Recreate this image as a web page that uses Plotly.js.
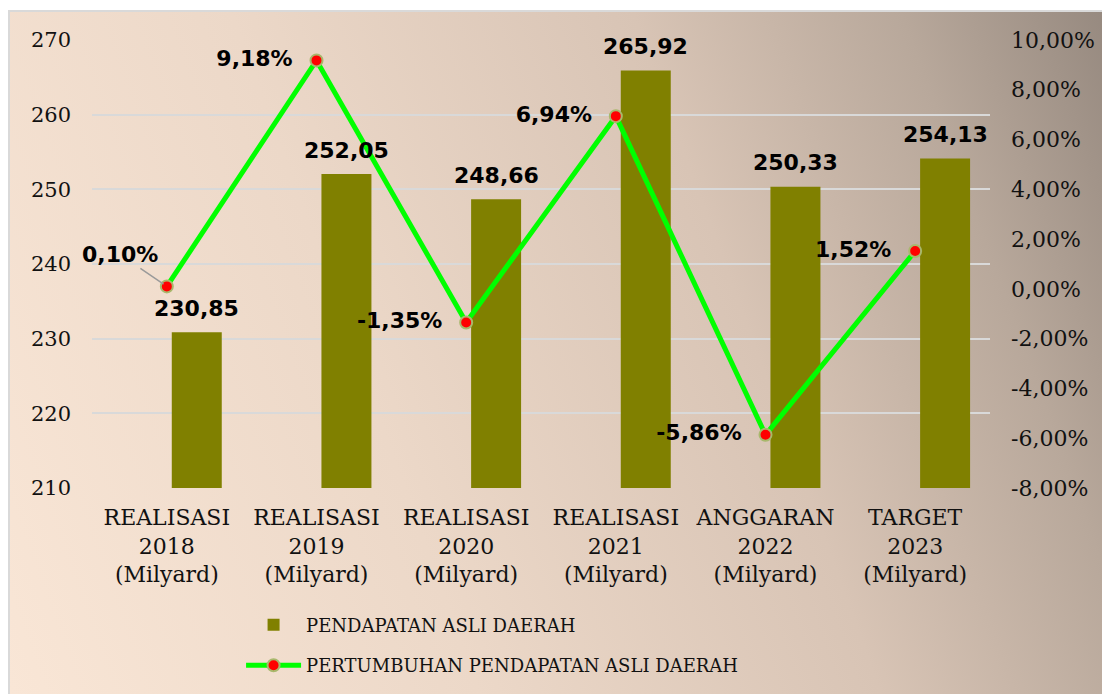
<!DOCTYPE html>
<html>
<head>
<meta charset="utf-8">
<script src="https://cdn.plot.ly/plotly-3.0.1.min.js"></script>
<style>
  html, body { margin: 0; padding: 0; background: #ffffff; width: 1102px; height: 694px; overflow: hidden; }
  #bg { position: absolute; left: 8px; top: 10px; width: 1094px; height: 684px;
        border-left: 2px solid #d9d9d9; border-top: 2px solid #d9d9d9; box-sizing: border-box;
        background: linear-gradient(70deg, #f9e6d6 0%, #ecd8c8 35%, #d8c4b5 65%, #b8a89b 85%, #978a80 100%); }
  #chart { position: absolute; left: 0; top: 0; width: 1102px; height: 694px; }
</style>
</head>
<body>
<div id="bg"></div>
<div id="chart"></div>
<script>
const categories = [
  "REALISASI<br>2018<br>(Milyard)",
  "REALISASI<br>2019<br>(Milyard)",
  "REALISASI<br>2020<br>(Milyard)",
  "REALISASI<br>2021<br>(Milyard)",
  "ANGGARAN<br>2022<br>(Milyard)",
  "TARGET<br>2023<br>(Milyard)"
];
const pad = [230.85, 252.05, 248.66, 265.92, 250.33, 254.13];
const growth = [0.10, 9.18, -1.35, 6.94, -5.86, 1.52];
const rightTicks = [-8, -6, -4, -2, 0, 2, 4, 6, 8, 10];
const leftTicks = [210, 220, 230, 240, 250, 260, 270];
const seriesNames = ["PENDAPATAN ASLI DAERAH", "PERTUMBUHAN PENDAPATAN ASLI DAERAH"];

const fmt = v => v.toFixed(2).replace('.', ',');
const growthText = growth.map((v, i) => i === 0 ? '' : fmt(v) + '%\u00a0\u00a0');

const labelFont = {family: 'DejaVu Sans', size: 22, color: '#000000', weight: 'bold'};
const serif = 'DejaVu Serif';

const barWidth = 0.334, barOffset = 0.033;
const plotW = 1102 - 92 - 112;
const barCenterShift = (barOffset + barWidth / 2) * plotW / categories.length;

const barTrace = {
  type: 'bar', x: categories, y: pad, name: seriesNames[0],
  marker: {color: '#808000'},
  width: barWidth, offset: barOffset,
  cliponaxis: false, hoverinfo: 'skip',
  legendgroup: 'a'
};
const lineTrace = {
  type: 'scatter', mode: 'lines+markers+text', x: categories, y: growth, yaxis: 'y2',
  name: seriesNames[1],
  line: {color: '#00ff00', width: 5},
  marker: {color: '#ff0000', size: 12, line: {color: '#a8b86c', width: 2}},
  text: growthText, textposition: 'middle left', textfont: labelFont,
  cliponaxis: false, hoverinfo: 'skip',
  legendgroup: 'b'
};

const barLabels = pad.map((v, i) => ({
  x: categories[i], y: v, xref: 'x', yref: 'y',
  text: fmt(v), font: labelFont, showarrow: false,
  xshift: barCenterShift, yshift: 24, yanchor: 'middle'
}));

const layout = {
  width: 1102, height: 694,
  paper_bgcolor: 'rgba(0,0,0,0)', plot_bgcolor: 'rgba(0,0,0,0)',
  margin: {l: 92, r: 112, t: 40, b: 205},
  showlegend: true,
  font: {family: serif, color: '#000000'},
  xaxis: {
    type: 'category', showgrid: false, zeroline: false, showline: false,
    tickfont: {family: serif, size: 22, color: '#111111'},
    ticks: '', ticklabelstandoff: 14, range: [-0.5, 5.5]
  },
  yaxis: {
    range: [210, 270], tickmode: 'array', tickvals: leftTicks, ticktext: leftTicks.map(String),
    showgrid: true, gridcolor: '#d9d9d9', gridwidth: 2,
    zeroline: false, showline: false,
    tickfont: {family: serif, size: 21, color: '#111111'},
    ticklabelstandoff: 20
  },
  yaxis2: {
    overlaying: 'y', side: 'right', range: [-8, 10],
    tickmode: 'array', tickvals: rightTicks, ticktext: rightTicks.map(v => fmt(v) + '%'),
    showgrid: false, zeroline: false, showline: false,
    tickfont: {family: serif, size: 22, color: '#111111'},
    ticklabelstandoff: 20
  },
  legend: {
    orientation: 'v', x: 0.166, xanchor: 'left', y: -0.262, yanchor: 'top',
    bgcolor: 'rgba(0,0,0,0)', font: {family: serif, size: 18, color: '#111111'},
    itemwidth: 55, tracegroupgap: 14, traceorder: 'grouped'
  },
  annotations: barLabels.concat([{
    x: categories[0], y: growth[0], xref: 'x', yref: 'y2',
    text: fmt(growth[0]) + '%', font: labelFont,
    showarrow: true, arrowhead: 0, arrowwidth: 1.5, arrowcolor: '#9a9a9a',
    ax: -47, ay: -32, standoff: 4
  }])
};

Plotly.newPlot('chart', [barTrace, lineTrace], layout, {displayModeBar: false, staticPlot: true});
</script>
</body>
</html>
